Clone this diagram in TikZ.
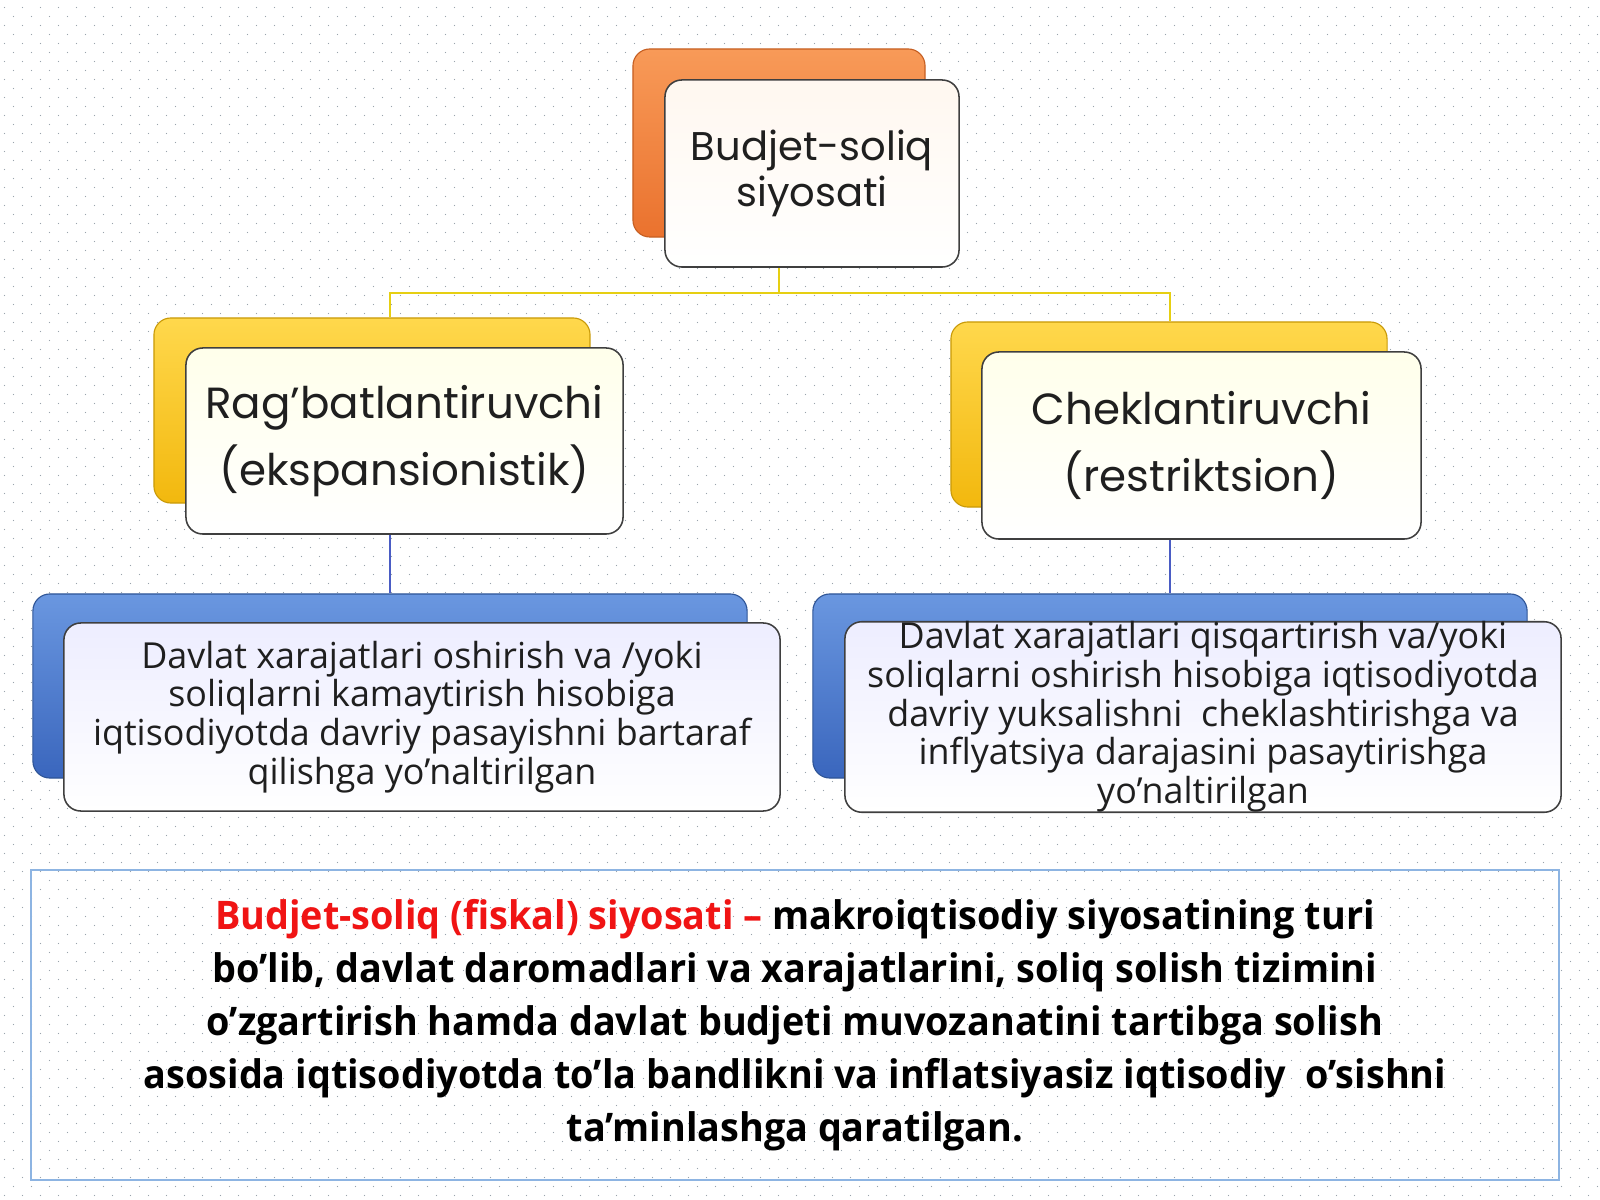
\documentclass[tikz,border=0pt]{standalone}
\usepackage{fontspec}
\usepackage{xcolor}
\usetikzlibrary{positioning,patterns.meta}
\newfontfamily\geofont{Poppins}
\newfontfamily\notefont{Open Sans}
\newfontfamily\defnfont[FakeStretch=0.96]{Open Sans}

\definecolor{dotgray}{HTML}{9AA3AD}
\definecolor{orangetop}{HTML}{F89A58}
\definecolor{orangebot}{HTML}{EA722E}
\definecolor{orangeedge}{HTML}{C65F22}
\definecolor{yellowtop}{HTML}{FFD84C}
\definecolor{yellowbot}{HTML}{F2B80E}
\definecolor{yellowedge}{HTML}{C99A08}
\definecolor{bluetop}{HTML}{6A97E0}
\definecolor{bluebot}{HTML}{3A66BD}
\definecolor{blueedge}{HTML}{2F5597}
\definecolor{cardedge}{HTML}{3F3F3F}
\definecolor{joinyellow}{HTML}{E6CF12}
\definecolor{joinblue}{HTML}{4A5CC4}
\definecolor{frameblue}{HTML}{8DB4E2}
\definecolor{defred}{HTML}{F01414}

\tikzdeclarepattern{
  name=bgdots,
  type=colored,
  bottom left={(0pt,0pt)},
  top right={(12.8pt,12.8pt)},
  tile size={(12.8pt,12.8pt)},
  code={
    \fill[dotgray] (3.2pt,3.2pt) circle (0.5pt);
    \fill[dotgray] (9.6pt,9.6pt) circle (0.5pt);
  }
}

\tikzstyle{backbox} = [rectangle, rounded corners=12pt, line width=0.8pt]
\tikzstyle{orangeback} = [backbox, draw=orangeedge, top color=orangetop, bottom color=orangebot]
\tikzstyle{yellowback} = [backbox, draw=yellowedge, top color=yellowtop, bottom color=yellowbot]
\tikzstyle{blueback} = [backbox, draw=blueedge, top color=bluetop, bottom color=bluebot]
\tikzstyle{card} = [rectangle, rounded corners=12pt, draw=cardedge, line width=1.1pt,
    align=center, inner sep=0pt, text=black!88]
\tikzstyle{headcard} = [card, top color=orange!6, bottom color=white,
    font=\geofont\fontsize{28.5}{33}\selectfont]
\tikzstyle{kindcard} = [card, top color=yellow!8, bottom color=white,
    font=\geofont\fontsize{31}{48}\selectfont]
\tikzstyle{notecard} = [card, top color=blue!7, bottom color=white,
    font=\notefont\fontsize{25.5}{27.5}\selectfont]
\tikzstyle{yline} = [joinyellow, line width=1.4pt]
\tikzstyle{bline} = [joinblue, line width=1.4pt]

\begin{document}
\begin{tikzpicture}[x=0.025cm, y=-0.025cm]
\useasboundingbox (0,0) rectangle (1600,1200);
\fill[white] (0,0) rectangle (1600,1200);
\fill[pattern=bgdots] (0,0) rectangle (1600,1200);

\coordinate (left-axis) at (390,0);
\coordinate (right-axis) at (1170,0);
\coordinate (fork) at (779,293);

% top card
\node (policy-back) [orangeback, minimum width=7.3cm, minimum height=4.7cm] at (779,143) {};
\node (policy) [headcard, minimum width=7.35cm, minimum height=4.675cm] at (812,173.5) {
    Budjet-soliq \\
    siyosati
};

% two kinds
\node (expand-back) [yellowback, minimum width=10.9cm, minimum height=4.625cm] at (372,410.5) {};
\node (expand) [kindcard, minimum width=10.925cm, minimum height=4.65cm] at (404.5,441) {
    Rag’batlantiruvchi \\
    (ekspansionistik)
};

\node (restrict-back) [yellowback, minimum width=10.9cm, minimum height=4.625cm] at (1169,414.5) {};
\node (restrict) [kindcard, minimum width=10.975cm, minimum height=4.675cm] at (1201.5,445.5) {
    Cheklantiruvchi \\
    (restriktsion)
};

% notes
\node (expand-note-back) [blueback, minimum width=17.85cm, minimum height=4.6cm] at (390,686) {};
\node (expand-note) [notecard, minimum width=17.9cm, minimum height=4.7cm] at (422,717) {
    Davlat xarajatlari oshirish va /yoki \\
    soliqlarni kamaytirish hisobiga \\
    iqtisodiyotda davriy pasayishni bartaraf \\
    qilishga yo’naltirilgan
};

\node (restrict-note-back) [blueback, minimum width=17.85cm, minimum height=4.6cm] at (1170,686) {};
\node (restrict-note) [notecard, minimum width=17.9cm, minimum height=4.7cm] at (1203,717) {
    Davlat xarajatlari qisqartirish va/yoki \\
    soliqlarni oshirish hisobiga iqtisodiyotda \\
    davriy yuksalishni \ cheklashtirishga va \\
    inflyatsiya darajasini pasaytirishga \\
    yo’naltirilgan
};

% definition
\node (definition) [rectangle, draw=frameblue, line width=1.1pt, align=center,
    minimum width=38.2cm, minimum height=7.75cm, inner sep=0pt,
    font=\defnfont\bfseries\fontsize{28}{37.7}\selectfont] at (795,1025) {
    {\color{defred}Budjet-soliq (fiskal) siyosati –} makroiqtisodiy siyosatining turi \\
    bo’lib, davlat daromadlari va xarajatlarini, soliq solish tizimini \\
    o’zgartirish hamda davlat budjeti muvozanatini tartibga solish \\
    asosida iqtisodiyotda to’la bandlikni va inflatsiyasiz iqtisodiy \ o’sishni \\
    ta’minlashga qaratilgan.
};

\draw [yline] (policy-back.south |- policy.south) -- (fork) -| (expand-back.north -| left-axis);
\draw [yline] (fork) -| (restrict-back.north -| right-axis);
\draw [bline] (expand.south -| left-axis) -- (expand-note-back.north -| left-axis);
\draw [bline] (restrict.south -| right-axis) -- (restrict-note-back.north -| right-axis);
\end{tikzpicture}
\end{document}
